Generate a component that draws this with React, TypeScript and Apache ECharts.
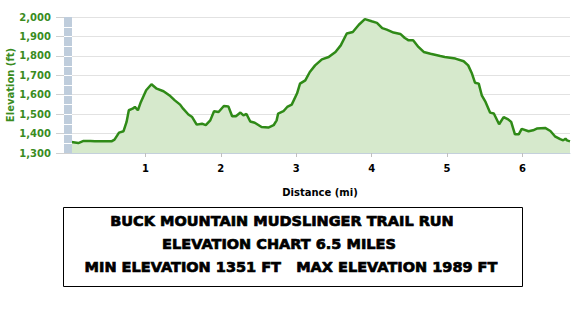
import React, { useEffect, useRef } from "react";
import * as echarts from "echarts";

const distanceMi = [
  0.02, 0.11, 0.18, 0.27, 0.33, 0.55, 0.59, 0.65, 0.71, 0.75, 0.78, 0.83, 0.86, 0.9, 0.94,
  1.01, 1.08, 1.15, 1.24, 1.33, 1.39, 1.46, 1.5, 1.57, 1.62, 1.68, 1.75, 1.8, 1.86, 1.91,
  1.97, 2.04, 2.1, 2.15, 2.2, 2.26, 2.3, 2.34, 2.39, 2.45, 2.54, 2.63, 2.7, 2.74, 2.76,
  2.83, 2.88, 2.94, 3.01, 3.05, 3.12, 3.18, 3.25, 3.34, 3.43, 3.52, 3.59, 3.67, 3.75, 3.83,
  3.91, 4.0, 4.07, 4.14, 4.2, 4.29, 4.38, 4.44, 4.49, 4.55, 4.62, 4.69, 4.78, 4.91, 4.97,
  5.11, 5.22, 5.28, 5.33, 5.37, 5.42, 5.46, 5.51, 5.57, 5.62, 5.69, 5.75, 5.81, 5.85, 5.9,
  5.95, 5.99, 6.08, 6.14, 6.19, 6.3, 6.37, 6.43, 6.5, 6.54, 6.57, 6.59, 6.63,
];

const elevationFt = [
  1357, 1351, 1362, 1362, 1360, 1360, 1369, 1405, 1412, 1460, 1520, 1528, 1537, 1520, 1563,
  1623, 1654, 1631, 1618, 1593, 1571, 1549, 1528, 1498, 1485, 1446, 1451, 1443, 1468, 1515,
  1511, 1542, 1540, 1489, 1489, 1508, 1494, 1501, 1462, 1456, 1434, 1431, 1443, 1468, 1503,
  1515, 1537, 1549, 1606, 1657, 1674, 1717, 1751, 1782, 1794, 1820, 1854, 1915, 1923, 1960,
  1989, 1978, 1970, 1943, 1935, 1920, 1913, 1892, 1880, 1880, 1846, 1820, 1811, 1799, 1794,
  1786, 1772, 1751, 1709, 1662, 1657, 1597, 1563, 1508, 1503, 1448, 1485, 1473, 1460, 1396,
  1396, 1424, 1412, 1417, 1426, 1429, 1413, 1386, 1371, 1365, 1374, 1365, 1360,
];

const xTicks = [1, 2, 3, 4, 5, 6];
const yMin = 1300;
const yMax = 2000;
const yStep = 100;
const xMax = 6.63;

const captionLines = [
  "BUCK MOUNTAIN MUDSLINGER TRAIL RUN",
  "ELEVATION CHART 6.5 MILES",
  "MIN ELEVATION 1351 FT\u00a0\u00a0\u00a0MAX ELEVATION 1989 FT",
];

const GREEN = "#3a8c1e";
const LINE = "#2f8a17";
const FILL = "#d6e9cc";

export default function App() {
  const ref = useRef<HTMLDivElement>(null);

  useEffect(() => {
    if (!ref.current) return;
    const chart = echarts.init(ref.current, undefined, { renderer: "svg" });
    const gridLeft = 70;
    const gridTop = 17;
    const gridBottomY = 153;
    const plotH = gridBottomY - gridTop;
    const segs = 14;
    const stripeLines: any[] = [];
    for (let k = 1; k < segs; k++) {
      const y = Math.round(gridTop + (k * plotH) / segs) + 0.5;
      stripeLines.push({
        type: "line",
        shape: { x1: 64, y1: y, x2: 72, y2: y },
        style: { stroke: "#ffffff", lineWidth: 1 },
        z: 11,
      });
    }
    const centers = [282, 279, 291];
    const ys = [221, 244, 267];
    const captionTexts = captionLines.map((t, i) => ({
      type: "text",
      x: centers[i],
      y: ys[i],
      style: {
        text: t,
        fill: "#000",
        stroke: "#000",
        lineWidth: 0.7,
        font: "bold 14.5px 'DejaVu Sans'",
        align: "center",
        verticalAlign: "middle",
      },
      z: 12,
    }));

    chart.setOption({
      animation: false,
      backgroundColor: "#ffffff",
      grid: {
        left: gridLeft,
        right: 10,
        top: gridTop,
        bottom: 319 - gridBottomY,
        containLabel: false,
        outerBoundsMode: "none",
      },
      xAxis: {
        type: "value",
        min: 0,
        max: xMax,
        interval: 1,
        name: "Distance (mi)",
        nameLocation: "middle",
        nameGap: 34,
        nameMoveOverlap: false,
        nameTextStyle: { fontFamily: "DejaVu Sans", fontWeight: "bold", fontSize: 10, color: "#000" },
        axisLine: { show: true, lineStyle: { color: "#c4d0dc", width: 1 } },
        axisTick: { show: true, length: 4, lineStyle: { color: "#c0c0c0" }, customValues: xTicks },
        axisLabel: {
          customValues: xTicks,
          margin: 10,
          fontFamily: "DejaVu Sans",
          fontWeight: "bold",
          fontSize: 10,
          color: "#000",
        },
        splitLine: { show: false },
      },
      yAxis: {
        type: "value",
        min: yMin,
        max: yMax,
        interval: yStep,
        name: "Elevation (ft)",
        nameLocation: "middle",
        nameGap: 55,
        nameRotate: 90,
        nameMoveOverlap: false,
        nameTextStyle: { fontFamily: "DejaVu Sans", fontWeight: "bold", fontSize: 10, color: GREEN },
        axisLine: { show: false },
        axisTick: { show: true, length: 14, lineStyle: { color: "#d0d0d0" } },
        axisLabel: {
          margin: 19,
          fontFamily: "DejaVu Sans",
          fontWeight: "bold",
          fontSize: 10,
          color: GREEN,
          formatter: (v: number) => v.toLocaleString("en-US"),
        },
        splitLine: { show: true, lineStyle: { color: "#e2e2e2", width: 1 } },
      },
      series: [
        {
          type: "line",
          data: distanceMi.map((d, i) => [d, elevationFt[i]]),
          showSymbol: false,
          symbol: "none",
          lineStyle: { color: LINE, width: 2.5 },
          areaStyle: { color: FILL, opacity: 1 },
          z: 3,
        },
      ],
      graphic: [
        {
          type: "rect",
          shape: { x: 64, y: gridTop, width: 8, height: plotH },
          style: { fill: "#bfcddc" },
          z: 10,
        },
        ...stripeLines,
        {
          type: "rect",
          shape: { x: 63.5, y: 207.5, width: 459, height: 79 },
          style: { fill: "#ffffff", stroke: "#000000", lineWidth: 1 },
          z: 11,
        },
        ...captionTexts,
      ],
    });
    return () => chart.dispose();
  }, []);

  return (
    <div
      ref={ref}
      style={{ position: "fixed", left: 0, top: 0, width: 580, height: 319, background: "#fff" }}
    />
  );
}
